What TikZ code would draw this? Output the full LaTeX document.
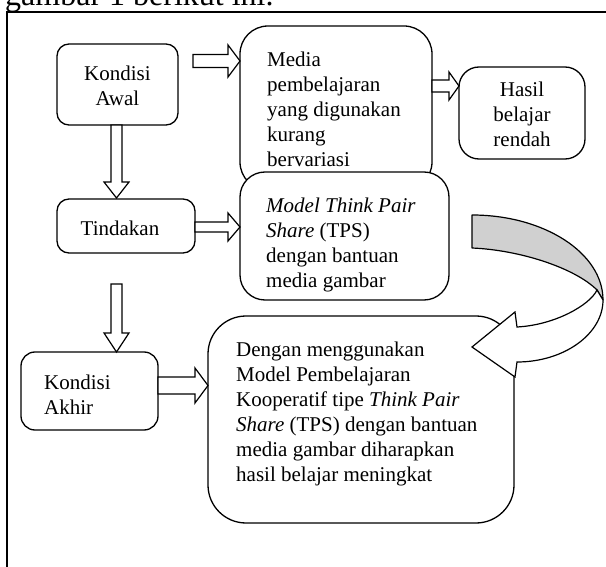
\documentclass[tikz,border=0pt]{standalone}
\usepackage{fontspec}
\setmainfont{Liberation Serif}
\definecolor{bandgray}{RGB}{208,208,208}
\begin{document}
\begin{tikzpicture}[x=1pt,y=-1pt,
  box/.style={draw, line width=1.3pt, fill=white, inner sep=0pt},
  txt/.style={font=\fontsize{21}{25}\selectfont, inner sep=0pt},
  barrow/.style={draw, line width=1.2pt, fill=white, line join=miter},
]
\useasboundingbox (0,0) rectangle (606,567);
\clip (0,0) rectangle (606,567);
% frame and cropped heading
\node[anchor=base west, font=\fontsize{32}{38}\selectfont, inner sep=0pt] (head) at (5,6) {gambar 1 berikut ini.};
\draw[line width=1.8pt] (7,600) -- (7,12) -- (620,12);
% boxes
\node[box, rounded corners=12pt, minimum width=121pt, minimum height=81pt] (ka) at (117.5,84.5) {};
\node[box, rounded corners=28pt, minimum width=192pt, minimum height=164pt] (media) at (336,108) {};
\node[box, rounded corners=20pt, minimum width=126pt, minimum height=92pt] (hasil) at (522,113) {};
\node[box, rounded corners=12pt, minimum width=138pt, minimum height=54pt] (tind) at (126,226) {};
\node[box, rounded corners=25pt, minimum width=209pt, minimum height=128pt] (tps) at (344.5,236) {};
\node[box, rounded corners=14pt, minimum width=137pt, minimum height=78pt] (kak) at (89.5,391) {};
\node[box, rounded corners=38pt, minimum width=306pt, minimum height=207pt] (big) at (361,419.5) {};
% texts
\node[txt, align=center] (tka) at (117.5,86) {Kondisi\\Awal};
\node[txt, align=left, anchor=west] (tmedia) at (267,109) {Media\\pembelajaran\\yang digunakan\\kurang\\bervariasi};
\node[txt, align=center] (thasil) at (522,114) {Hasil\\belajar\\rendah};
\node[txt] (ttind) at (120,228) {Tindakan};
\node[txt, align=left, anchor=west] (ttps) at (266,245) {\textit{Model Think Pair}\\\textit{Share} (TPS)\\dengan bantuan\\media gambar};
\node[txt, align=left, anchor=west] (tkak) at (44,395) {Kondisi\\Akhir};
\node[txt, align=left, anchor=west] (tbig) at (236,414) {Dengan menggunakan\\Model Pembelajaran\\Kooperatif tipe \textit{Think Pair}\\\textit{Share} (TPS) dengan bantuan\\media gambar diharapkan\\hasil belajar meningkat};
% block arrows
\draw[barrow] (193,54.5) -- (228,54.5) -- (228,45) -- (240,61) -- (228,77) -- (228,67.5) -- (193,67.5) -- cycle;
\draw[barrow] (432,80) -- (449,80) -- (449,72) -- (459,86) -- (449,100) -- (449,92) -- (432,92) -- cycle;
\draw[barrow] (111,125) -- (111,182) -- (104,182) -- (116.5,198) -- (129,182) -- (122,182) -- (122,125) -- cycle;
\draw[barrow] (195,222) -- (228,222) -- (228,213) -- (240,227) -- (228,241) -- (228,232) -- (195,232) -- cycle;
\draw[barrow] (111,284) -- (111,333) -- (104,333) -- (116.5,352) -- (129,333) -- (122,333) -- (122,284) -- cycle;
\draw[barrow] (158,377) -- (195,377) -- (195,368) -- (208,385.5) -- (195,403) -- (195,394) -- (158,394) -- cycle;
% curved arrow
\draw[line width=1.2pt, fill=bandgray, line join=round] (472,215) .. controls (544,215) and (603,253) .. (603,300) -- (597,290) .. controls (575,268) and (520,250) .. (472,248) -- cycle;
\draw[line width=1.2pt, fill=white, line join=miter] (597,290) .. controls (590,305) and (555,325) .. (517,327) -- (515,312) -- (472,347) -- (515,377) -- (517,362) .. controls (564,362) and (603,334) .. (603,300) -- cycle;
\end{tikzpicture}
\end{document}
